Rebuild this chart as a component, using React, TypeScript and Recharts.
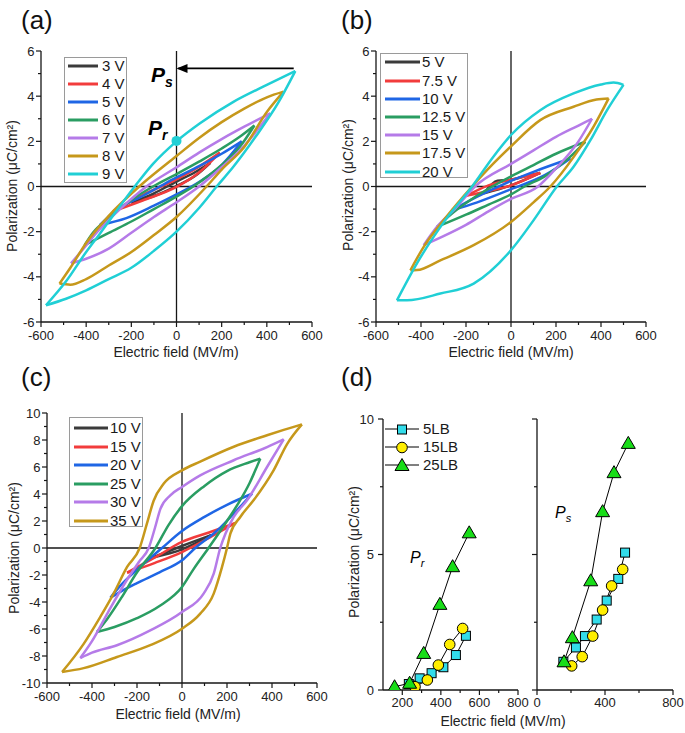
import React from 'react'
import { LineChart, Line, XAxis, YAxis, ReferenceLine, ReferenceDot } from 'recharts'

const FONT = "'Liberation Sans', Arial, Helvetica, sans-serif"
const INK = '#161616'

type Pt = [number, number]

// ---- panel (a): 5LB loops, [E (MV/m), P (µC/cm²)], both branches ordered by E
const aLabels = ['3 V', '4 V', '5 V', '6 V', '7 V', '8 V', '9 V']
const a3Up: Pt[] = [[-200, -0.72], [-100, -0.3], [0, 0.22], [80, 0.62], [150, 1.05]]
const a3Down: Pt[] = [[-200, -0.72], [-100, -0.42], [0, 0.02], [80, 0.45], [150, 1.05]]
const a4Up: Pt[] = [[-281, -1.1], [-150, -0.38], [0, 0.32], [100, 0.88], [192, 1.5]]
const a4Down: Pt[] = [[-281, -1.1], [-150, -0.62], [0, -0.02], [100, 0.62], [192, 1.5]]
const a5Up: Pt[] = [[-340, -1.71], [-267, -1.05], [-150, -0.42], [-74, 0], [0, 0.4], [100, 0.9], [200, 1.45], [289, 2.0]]
const a5Down: Pt[] = [[-340, -1.71], [-222, -1.4], [-100, -0.85], [0, -0.35], [100, 0.2], [200, 0.95], [289, 2.0]]
const a6Up: Pt[] = [[-407, -2.6], [-370, -2.05], [-300, -1.4], [-200, -0.6], [-104, 0], [0, 0.55], [100, 1.1], [200, 1.68], [280, 2.2], [345, 2.7]]
const a6Down: Pt[] = [[-407, -2.6], [-300, -2.05], [-200, -1.55], [-100, -1.0], [0, -0.45], [74, 0], [200, 0.95], [280, 1.75], [345, 2.7]]
const a7Up: Pt[] = [[-467, -3.4], [-420, -2.85], [-350, -2.0], [-250, -1.0], [-133, 0], [0, 0.85], [100, 1.5], [200, 2.1], [300, 2.65], [415, 3.24]]
const a7Down: Pt[] = [[-467, -3.4], [-400, -3.2], [-300, -2.75], [-200, -2.05], [-100, -1.35], [0, -0.7], [100, 0], [200, 0.85], [300, 1.8], [350, 2.4], [415, 3.24]]
const a8Up: Pt[] = [[-518, -4.3], [-470, -3.6], [-400, -2.5], [-300, -1.3], [-165, 0], [0, 1.35], [100, 2.15], [200, 2.85], [300, 3.45], [400, 3.95], [474, 4.2]]
const a8Down: Pt[] = [[-518, -4.3], [-470, -4.35], [-400, -4.1], [-300, -3.5], [-200, -2.9], [-100, -2.15], [0, -1.35], [133, 0], [200, 0.75], [300, 1.75], [400, 3.3], [474, 4.2]]
const a9Up: Pt[] = [[-578, -5.26], [-489, -4.2], [-400, -2.9], [-340, -2.1], [-185, 0], [-104, 1.0], [0, 2.0], [104, 2.8], [252, 3.75], [400, 4.5], [526, 5.11]]
const a9Down: Pt[] = [[-578, -5.26], [-489, -4.97], [-400, -4.6], [-300, -4.1], [-200, -3.6], [-100, -2.85], [0, -2.0], [100, -0.95], [178, 0], [250, 0.85], [350, 2.2], [450, 3.7], [526, 5.11]]

// ---- panel (b): 15LB loops
const bLabels = ['5 V', '7.5 V', '10 V', '12.5 V', '15 V', '17.5 V', '20 V']
const b5Up: Pt[] = [[-120, -0.3], [-60, 0.25], [0, 0.3], [60, 0.45], [130, 0.6]]
const b5Down: Pt[] = [[-120, -0.3], [0, 0.05], [130, 0.6]]
const b7Up: Pt[] = [[-196, -0.4], [-100, 0.05], [0, 0.3], [130, 0.6]]
const b7Down: Pt[] = [[-196, -0.4], [-100, -0.2], [0, 0.05], [130, 0.6]]
const b10Up: Pt[] = [[-262, -1.05], [-150, -0.45], [0, 0.25], [100, 0.65], [264, 1.24]]
const b10Down: Pt[] = [[-262, -1.05], [-150, -0.7], [0, -0.12], [150, 0.5], [264, 1.24]]
const b12Up: Pt[] = [[-329, -1.79], [-250, -1.1], [-150, -0.4], [0, 0.45], [100, 0.95], [200, 1.45], [330, 1.98]]
const b12Down: Pt[] = [[-329, -1.79], [-200, -1.25], [-100, -0.8], [0, -0.35], [60, 0], [150, 0.45], [250, 1.2], [330, 1.98]]
const b15Up: Pt[] = [[-388, -2.6], [-330, -1.8], [-250, -1.0], [-160, 0], [0, 1.0], [100, 1.6], [200, 2.2], [300, 2.7], [360, 3.0]]
const b15Down: Pt[] = [[-388, -2.6], [-300, -2.2], [-200, -1.7], [-100, -1.1], [0, -0.55], [120, 0], [200, 0.8], [300, 2.0], [360, 3.0]]
const b17Up: Pt[] = [[-447, -3.71], [-388, -2.67], [-300, -1.5], [-173, 0], [-80, 1.0], [0, 1.78], [130, 2.94], [278, 3.53], [380, 3.85], [434, 3.9]]
const b17Down: Pt[] = [[-447, -3.71], [-418, -3.7], [-314, -3.27], [-166, -2.6], [0, -1.57], [100, -0.7], [175, 0], [278, 1.3], [367, 2.65], [434, 3.9]]
const b20Up: Pt[] = [[-507, -5.04], [-418, -3.4], [-300, -1.6], [-173, 0], [-80, 1.3], [0, 2.28], [130, 3.38], [278, 4.12], [400, 4.52], [456, 4.6], [500, 4.5]]
const b20Down: Pt[] = [[-507, -5.04], [-462, -5.04], [-314, -4.74], [-166, -4.3], [0, -2.82], [100, -1.5], [204, 0], [278, 0.87], [353, 2.05], [427, 3.38], [500, 4.5]]

// ---- panel (c): 25LB loops
const cLabels = ['10 V', '15 V', '20 V', '25 V', '30 V', '35 V']
const c10Up: Pt[] = [[-130, -0.7], [0, 0.15], [130, 0.95]]
const c10Down: Pt[] = [[-130, -0.7], [0, -0.1], [130, 0.95]]
const c15Up: Pt[] = [[-244, -1.83], [-120, -0.7], [0, 0.45], [120, 1.15], [237, 1.85]]
const c15Down: Pt[] = [[-244, -1.83], [-120, -1.1], [0, -0.3], [120, 0.75], [237, 1.85]]
const c20Up: Pt[] = [[-318, -3.68], [-280, -2.9], [-200, -1.6], [-89, 0], [0, 1.26], [100, 2.3], [200, 3.2], [311, 4.02]]
const c20Down: Pt[] = [[-318, -3.68], [-280, -3.3], [-200, -2.6], [-100, -1.8], [0, -0.91], [59, 0], [150, 1.2], [250, 2.9], [311, 4.02]]
const c25Up: Pt[] = [[-378, -6.22], [-330, -5.2], [-270, -3.7], [-200, -1.8], [-118, 0], [-60, 1.7], [0, 3.1], [100, 4.6], [200, 5.7], [300, 6.35], [348, 6.62]]
const c25Down: Pt[] = [[-378, -6.22], [-300, -5.85], [-200, -5.2], [-100, -4.3], [0, -2.89], [50, -1.6], [118, 0], [200, 2.0], [250, 3.3], [300, 4.8], [348, 6.62]]
const c30Up: Pt[] = [[-452, -8.15], [-400, -6.9], [-330, -4.8], [-250, -2.5], [-190, -1.0], [-148, 0], [-120, 1.5], [-96, 2.9], [-52, 3.9], [0, 4.52], [81, 5.38], [230, 6.5], [378, 7.48], [452, 8.05]]
const c30Down: Pt[] = [[-452, -8.15], [-400, -7.75], [-289, -7.2], [-141, -6.1], [0, -4.74], [96, -3.38], [141, -1.9], [170, 0], [193, 1.06], [230, 2.3], [289, 3.53], [378, 6.0], [452, 8.05]]
const c35Up: Pt[] = [[-533, -9.19], [-437, -7.1], [-363, -5.1], [-304, -3.38], [-244, -1.4], [-188, 0], [-156, 1.8], [-126, 3.5], [-81, 4.77], [0, 5.75], [81, 6.4], [230, 7.5], [378, 8.35], [452, 8.75], [533, 9.16]]
const c35Down: Pt[] = [[-533, -9.19], [-437, -8.9], [-289, -8.07], [-141, -7.2], [0, -5.98], [81, -4.86], [141, -3.38], [178, -1.4], [200, 0], [215, 1.06], [259, 2.3], [318, 3.53], [407, 5.75], [467, 7.7], [533, 9.16]]

const loopColors = ['#3b3b3b', '#f23c3c', '#1f66e5', '#2a9d62', '#b57be8', '#c6981b', '#20cfd5']

// Pr / Ps annotations of (a)
const prPoint = { x: 0, y: 2.02 }
const psArrow = [{ x: 519, y: 5.23 }, { x: 8, y: 5.23 }]

// ---- panel (d): remanent (Pr) and saturation (Ps) polarization
const dLabels = ['5LB', '15LB', '25LB']
const prE5 = [234, 290, 352, 413, 478, 530]
const prP5 = [0.22, 0.43, 0.62, 0.84, 1.29, 2.0]
const prE15 = [266, 330, 387, 446, 513]
const prP15 = [0.12, 0.37, 0.92, 1.68, 2.27]
const prE25 = [160, 238, 311, 395, 461, 547]
const prP25 = [0.12, 0.25, 1.35, 3.16, 4.55, 5.8]
const psE5 = [155, 229, 282, 351, 410, 478, 518]
const psP5 = [1.04, 1.57, 1.99, 2.6, 3.3, 4.1, 5.07]
const psE15 = [204, 266, 328, 386, 439, 504]
const psP15 = [0.89, 1.23, 1.99, 2.95, 3.84, 4.45]
const psE25 = [159, 208, 316, 386, 453, 537]
const psP25 = [1.04, 1.93, 4.03, 6.58, 8.02, 9.1]

// ---- ticks
const loopXTicks = [-600, -500, -400, -300, -200, -100, 0, 100, 200, 300, 400, 500, 600]
const loopXMajors = [-600, -400, -200, 0, 200, 400, 600]
const abYTicks = [-6, -5, -4, -3, -2, -1, 0, 1, 2, 3, 4, 5, 6]
const abYMajors = [-6, -4, -2, 0, 2, 4, 6]
const cYTicks = [-10, -9, -8, -7, -6, -5, -4, -3, -2, -1, 0, 1, 2, 3, 4, 5, 6, 7, 8, 9, 10]
const cYMajors = [-10, -8, -6, -4, -2, 0, 2, 4, 6, 8, 10]
const dLeftXTicks = [200, 300, 400, 500, 600, 700, 800]
const dLeftXMajors = [200, 400, 600, 800]
const dRightXTicks = [0, 200, 400, 600, 800]
const dRightXMajors = [0, 400, 800]
const dYTicks = [0, 2.5, 5, 7.5, 10]
const dYMajors = [0, 5, 10]

const pts = (a: Pt[]) => a.map(([x, y]) => ({ x, y }))
const zip = (e: number[], p: number[]) => e.map((x, i) => ({ x, y: p[i] }))

function Tick(props: any) {
  const { x, y, payload, side, majors, labels = true, dy = 18, dx = 6.5 } = props
  const v = payload.value
  const major = majors.some((m: number) => Math.abs(m - v) < 1e-6)
  const out = major ? 5 : 3
  const inn = major ? 4 : 2.5
  if (side === 'bottom')
    return (
      <g>
        <line x1={x} y1={y} x2={x} y2={y + out} stroke={INK} strokeWidth={1.2} />
        {major && labels && (
          <text x={x} y={y + dy} textAnchor="middle" fontSize={13} fontFamily={FONT} fill="#222">{String(v)}</text>
        )}
      </g>
    )
  if (side === 'left')
    return (
      <g>
        <line x1={x} y1={y} x2={x - out} y2={y} stroke={INK} strokeWidth={1.2} />
        {major && labels && (
          <text x={x - dx} y={y + 4.6} textAnchor="end" fontSize={13} fontFamily={FONT} fill="#222">{String(v)}</text>
        )}
      </g>
    )
  if (side === 'top') return <line x1={x} y1={y} x2={x} y2={y + inn} stroke={INK} strokeWidth={1.2} />
  return <line x1={x} y1={y} x2={x - inn} y2={y} stroke={INK} strokeWidth={1.2} />
}

const axisLine = { stroke: INK, strokeWidth: 1.3 }

function Frame(xDomain: number[], xTicks: number[], xMajors: number[], yDomain: number[], yTicks: number[], yMajors: number[], yW: number, xH: number, opts: any = {}) {
  return [
    <XAxis key="xb" type="number" dataKey="x" domain={xDomain} ticks={xTicks} interval={0} allowDataOverflow
      tickSize={0} tickMargin={0} tickLine={false} axisLine={axisLine} height={xH}
      tick={<Tick side="bottom" majors={xMajors} dy={opts.dy ?? 18} />} />,
    <XAxis key="xt" xAxisId="top" orientation="top" type="number" domain={xDomain} ticks={xTicks} interval={0} allowDataOverflow
      tickSize={0} tickMargin={0} tickLine={false} axisLine={axisLine} height={0}
      tick={<Tick side="top" majors={xMajors} />} />,
    <YAxis key="yl" type="number" domain={yDomain} ticks={yTicks} interval={0} allowDataOverflow
      tickSize={0} tickMargin={0} tickLine={false} axisLine={axisLine} width={yW}
      tick={<Tick side="left" majors={yMajors} labels={opts.yLabels ?? true} dx={opts.dx ?? 6.5} />} />,
    <YAxis key="yr" yAxisId="right" orientation="right" type="number" domain={yDomain} ticks={yTicks} interval={0} allowDataOverflow
      tickSize={0} tickMargin={0} tickLine={false} axisLine={axisLine} width={0}
      tick={<Tick side="right" majors={yMajors} />} />,
  ]
}

function LoopChart({ w, h, margin, yW, xH, yDomain, yTicks, yMajors, loops, extra }: any) {
  return (
    <LineChart width={w} height={h} margin={margin}>
      {Frame([-600, 600], loopXTicks, loopXMajors, yDomain, yTicks, yMajors, yW, xH)}
      <ReferenceLine x={0} stroke={INK} strokeWidth={1.3} />
      <ReferenceLine y={0} stroke={INK} strokeWidth={1.3} />
      {loops.map(([up, down]: Pt[][], i: number) => [
        <Line key={`u${i}`} data={pts(up)} dataKey="y" type="monotone" stroke={loopColors[i]} strokeWidth={2.5} dot={false} isAnimationActive={false} />,
        <Line key={`d${i}`} data={pts(down)} dataKey="y" type="monotone" stroke={loopColors[i]} strokeWidth={2.5} dot={false} isAnimationActive={false} />,
      ])}
      {extra}
    </LineChart>
  )
}

function Marker({ cx, cy, kind }: any) {
  if (kind === 0) return <rect x={cx - 4.5} y={cy - 4.5} width={9} height={9} fill="#33dcea" stroke="#000" strokeWidth={1} />
  if (kind === 1) return <circle cx={cx} cy={cy} r={5.3} fill="#ffee00" stroke="#000" strokeWidth={1} />
  return <polygon points={`${cx},${cy - 7} ${cx + 7},${cy + 5} ${cx - 7},${cy + 5}`} fill="#18dd18" stroke="#000" strokeWidth={1} />
}

function markerLine(data: { x: number; y: number }[], kind: number) {
  return (
    <Line key={`m${kind}`} data={data} dataKey="y" type="linear" stroke="#000" strokeWidth={1} isAnimationActive={false}
      dot={(p: any) => <Marker key={`k${kind}-${p.index}`} cx={p.cx} cy={p.cy} kind={kind} />} />
  )
}

function LegendRows({ x, y0, step, len, gap, labels, colors }: any) {
  return labels.map((t: string, i: number) => (
    <div key={t} style={{ position: 'absolute', left: x, top: y0 + i * step - 9, height: 18, display: 'flex', alignItems: 'center', fontSize: 15, whiteSpace: 'nowrap', color: '#1a1a1a' }}>
      <svg width={len} height={6} style={{ display: 'block' }}>
        <line x1={0} y1={3} x2={len} y2={3} stroke={colors[i]} strokeWidth={3} />
      </svg>
      <span style={{ marginLeft: gap, lineHeight: '18px' }}>{t}</span>
    </div>
  ))
}

const Box = ({ l, t, r, b }: any) => (
  <div style={{ position: 'absolute', left: l, top: t, width: r - l, height: b - t, border: '1px solid #9a9a9a', boxSizing: 'border-box', background: '#fff' }} />
)

const abs = (left: number, top: number, extra: any = {}): React.CSSProperties => ({ position: 'absolute', left, top, ...extra })

const XTitle = ({ cx, top }: any) => (
  <div style={abs(cx, top, { transform: 'translateX(-50%)', fontSize: 14, lineHeight: '14px', whiteSpace: 'nowrap', color: '#222' })}>Electric field (MV/m)</div>
)
const YTitle = ({ cx, cy }: any) => (
  <div style={abs(cx, cy, { transform: 'translate(-50%,-50%) rotate(-90deg)', fontSize: 14, lineHeight: '14px', whiteSpace: 'nowrap', color: '#222' })}>Polarization (μC/cm²)</div>
)
const PanelTag = ({ l, t, s }: any) => (
  <div style={abs(l, t, { fontSize: 26, lineHeight: '26px', color: '#111' })}>{s}</div>
)

export default function App() {
  const aLoops = [[a3Up, a3Down], [a4Up, a4Down], [a5Up, a5Down], [a6Up, a6Down], [a7Up, a7Down], [a8Up, a8Down], [a9Up, a9Down]]
  const bLoops = [[b5Up, b5Down], [b7Up, b7Down], [b10Up, b10Down], [b12Up, b12Down], [b15Up, b15Down], [b17Up, b17Down], [b20Up, b20Down]]
  const cLoops = [[c10Up, c10Down], [c15Up, c15Down], [c20Up, c20Down], [c25Up, c25Down], [c30Up, c30Down], [c35Up, c35Down]]

  const aExtra = [
    <Line key="arrow" data={psArrow} dataKey="y" type="linear" stroke="#000" strokeWidth={1.8} dot={false} isAnimationActive={false} />,
    <ReferenceDot key="head" x={0} y={5.23} r={1}
      shape={(p: any) => <polygon points={`${p.cx},${p.cy} ${p.cx + 11},${p.cy - 4.5} ${p.cx + 11},${p.cy + 4.5}`} fill="#000" />} />,
    <ReferenceDot key="pr" x={prPoint.x} y={prPoint.y} r={5} fill="#20cfd5" stroke="none" />,
  ]

  return (
    <div style={{ position: 'absolute', left: 0, top: 0, width: 685, height: 733, background: '#fff', fontFamily: FONT, overflow: 'hidden' }}>
      {/* (a) */}
      <div style={abs(0, 40)}>
        <LoopChart w={330} h={320} margin={{ top: 11, right: 18, left: 0, bottom: 0 }} yW={41} xH={38}
          yDomain={[-6, 6]} yTicks={abYTicks} yMajors={abYMajors} loops={aLoops} extra={aExtra} />
      </div>
      <Box l={64} t={57} r={127} b={183} />
      <LegendRows x={68} y0={65.7} step={18.05} len={30} gap={4} labels={aLabels} colors={loopColors} />
      <div style={abs(151, 64, { fontSize: 21, lineHeight: '21px', fontWeight: 'bold', fontStyle: 'italic' })}>
        P<span style={{ fontSize: 14, position: 'relative', top: 5 }}>s</span>
      </div>
      <div style={abs(148, 117, { fontSize: 21, lineHeight: '21px', fontWeight: 'bold', fontStyle: 'italic' })}>
        P<span style={{ fontSize: 14, position: 'relative', top: 5 }}>r</span>
      </div>
      <XTitle cx={176} top={345} />
      <YTitle cx={12} cy={186} />
      <PanelTag l={21} t={7} s="(a)" />

      {/* (b) */}
      <div style={abs(335, 40)}>
        <LoopChart w={350} h={320} margin={{ top: 11, right: 39, left: 0, bottom: 0 }} yW={41} xH={38}
          yDomain={[-6, 6]} yTicks={abYTicks} yMajors={abYMajors} loops={bLoops} />
      </div>
      <Box l={380} t={53} r={468} b={178} />
      <LegendRows x={385} y0={62.3} step={18.2} len={35} gap={2} labels={bLabels} colors={loopColors} />
      <XTitle cx={511} top={345} />
      <YTitle cx={348} cy={185} />
      <PanelTag l={341} t={7} s="(b)" />

      {/* (c) */}
      <div style={abs(0, 400)}>
        <LoopChart w={340} h={320} margin={{ top: 13, right: 23, left: 0, bottom: 0 }} yW={47} xH={37}
          yDomain={[-10, 10]} yTicks={cYTicks} yMajors={cYMajors} loops={cLoops} />
      </div>
      <Box l={69} t={417} r={143} b={527} />
      <LegendRows x={74} y0={428.3} step={18.5} len={34} gap={2} labels={cLabels} colors={loopColors} />
      <XTitle cx={178} top={707} />
      <YTitle cx={14} cy={548} />
      <PanelTag l={21} t={364} s="(c)" />

      {/* (d) */}
      <div style={abs(340, 400)}>
        <LineChart width={200} height={320} margin={{ top: 19, right: 22, left: 0, bottom: 0 }}>
          {Frame([100, 800], dLeftXTicks, dLeftXMajors, [0, 10], dYTicks, dYMajors, 43, 30, { dy: 16.6, dx: 9 })}
          {markerLine(zip(prE5, prP5), 0)}
          {markerLine(zip(prE15, prP15), 1)}
          {markerLine(zip(prE25, prP25), 2)}
        </LineChart>
      </div>
      <div style={abs(520, 400)}>
        <LineChart width={165} height={320} margin={{ top: 19, right: 12, left: 0, bottom: 0 }}>
          {Frame([0, 800], dRightXTicks, dRightXMajors, [0, 10], dYTicks, dYMajors, 17, 30, { dy: 16.6, yLabels: false })}
          {markerLine(zip(psE5, psP5), 0)}
          {markerLine(zip(psE15, psP15), 1)}
          {markerLine(zip(psE25, psP25), 2)}
        </LineChart>
      </div>
      {dLabels.map((t, i) => (
        <div key={t} style={abs(385, 429.3 + i * 17.9 - 9, { height: 18, display: 'flex', alignItems: 'center', fontSize: 15, color: '#1a1a1a' })}>
          <svg width={34} height={16} style={{ display: 'block' }}>
            <line x1={0} y1={8} x2={34} y2={8} stroke="#000" strokeWidth={1} />
            <Marker cx={17} cy={8.5} kind={i} />
          </svg>
          <span style={{ marginLeft: 4, lineHeight: '18px' }}>{t}</span>
        </div>
      ))}
      <div style={abs(410, 550, { fontSize: 16, lineHeight: '16px', fontStyle: 'italic' })}>
        P<span style={{ fontSize: 11, position: 'relative', top: 4 }}>r</span>
      </div>
      <div style={abs(555, 505, { fontSize: 16, lineHeight: '16px', fontStyle: 'italic' })}>
        P<span style={{ fontSize: 11, position: 'relative', top: 4 }}>s</span>
      </div>
      <XTitle cx={503} top={714} />
      <YTitle cx={354} cy={552} />
      <PanelTag l={341} t={364} s="(d)" />
    </div>
  )
}
